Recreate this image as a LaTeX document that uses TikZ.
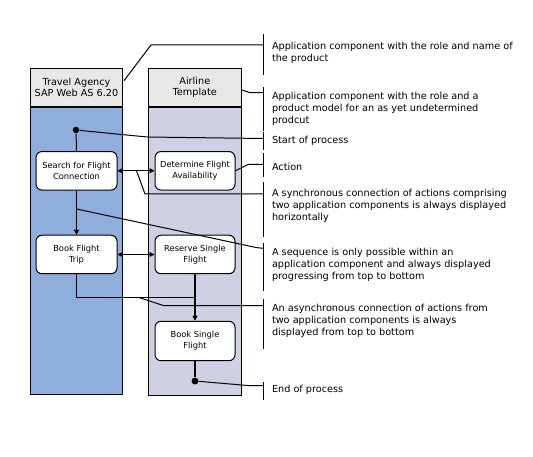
\documentclass[tikz,border=0pt]{standalone}
\usepackage{fontspec}
\setmainfont{DejaVu Sans}
\usetikzlibrary{arrows.meta}
\definecolor{laneA}{HTML}{8FAEDC}
\definecolor{laneB}{HTML}{CDD1E3}
\definecolor{hdrgray}{HTML}{E8E8E8}
\begin{document}
\begin{tikzpicture}[x=1pt,y=-1pt,line width=1pt,
  hdrbox/.style={draw,fill=hdrgray,minimum width=92.7pt,minimum height=38.4pt,inner sep=0pt,align=center,font=\fontsize{9.7}{11.6}\selectfont},
  act/.style={draw,fill=white,rounded corners=6pt,minimum width=81pt,minimum height=38.5pt,inner sep=0pt,align=center,font=\fontsize{8.3}{10.7}\selectfont},
  note/.style={anchor=west,align=left,inner sep=0pt,font=\fontsize{9.7}{12}\selectfont},
  dotnode/.style={circle,fill=black,inner sep=0pt,minimum size=6.5pt},
  onehead/.style={-{Triangle[length=5pt,width=5pt]}},
  twohead/.style={{Triangle[length=5pt,width=5pt]}-{Triangle[length=5pt,width=5pt]}},
  heavy/.style={line width=2pt}]
\useasboundingbox (0,0) rectangle (533,457);
% lanes
\filldraw[fill=laneA] (30,68.3) rectangle (122.7,394);
\filldraw[fill=laneB] (148.3,68.3) rectangle (241.3,395);
\node[hdrbox] (h1) at (76.5,87.5) {Travel Agency\\SAP Web AS 6.20};
\node[hdrbox] (h2) at (194.8,87.5) {Airline\\Template};
\draw[heavy] (30,106.7) -- (122.7,106.7);
\draw[heavy] (148.3,106.7) -- (241.3,106.7);
% actions
\node[act] (search) at (76.5,170.8) {Search for Flight\\Connection};
\node[act,minimum width=80pt] (determine) at (195,170.8) {Determine Flight\\Availability};
\node[act] (booktrip) at (76.5,254.5) {Book Flight\\Trip};
\node[act,minimum width=80pt] (reserve) at (195,254.5) {Reserve Single\\Flight};
\node[act,minimum width=80pt,minimum height=39.4pt] (booksingle) at (195,341) {Book Single\\Flight};
\node[dotnode] (start) at (76,130) {};
\node[dotnode,minimum size=7pt] (end) at (195,381) {};
% flows
\draw (start) -- (search.north);
\draw[twohead] (search.east) -- (determine.west);
\draw[onehead] (search.south) -- (booktrip.north);
\draw[twohead] (booktrip.east) -- (reserve.west);
\draw[heavy,onehead] (reserve.south) -- (booksingle.north);
\coordinate (join) at (195,297.3);
\draw (booktrip.south) |- (join);
\draw[heavy] (booksingle.south) -- (end);
% callout bars
\foreach \a/\b in {34/75,87/131,132/150.5,153/177,182.5/236.7,243.3/290.7,299.3/349.3,381.7/400}
  \draw (263,\a) -- (263,\b);
% callout anchors
\coordinate (c1) at (124,80.7);
\coordinate (c2) at (241.3,89.7);
\coordinate (c5) at (136.5,170.8);
\coordinate (c6) at (76.5,209);
\coordinate (c7) at (138.3,297.3);
\coordinate (e1) at (263,45);
\coordinate (e2) at (263,92.7);
\coordinate (e3) at (263,138.5);
\coordinate (e4) at (263,164.3);
\coordinate (e5) at (263,194);
\coordinate (e6) at (263,248.3);
\coordinate (e7) at (263,305.5);
\coordinate (e8) at (263,385.7);
\draw (c1) -- (151,45) -- (e1);
\draw (c2) -- (250,92.7) -- (e2);
\draw (start) -- (147,137) -- (e3);
\draw (determine.east) -- (248.3,164.3) -- (e4);
\draw (c5) -- (145,194) -- (e5);
\draw (c6) -- (256,247.5) -- (e6);
\draw (c7) -- (163.3,305.5) -- (e7);
\draw (end) -- (250,385.7) -- (e8);
% notes
\node[note] (n1) at (271.5,53) {Application component with the role and name of\\the product};
\node[note] (n2) at (271.5,108.6) {Application component with the role and a\\product model for an as yet undetermined\\prodcut};
\node[note] (n3) at (271.5,141) {Start of process};
\node[note] (n4) at (271.5,167.3) {Action};
\node[note] (n5) at (271.5,205.5) {A synchronous connection of actions comprising\\two application components is always displayed\\horizontally};
\node[note] (n6) at (271.5,265) {A sequence is only possible within an\\application component and always displayed\\progressing from top to bottom};
\node[note] (n7) at (271.5,321) {An asynchronous connection of actions from\\two application components is always\\displayed from top to bottom};
\node[note] (n8) at (271.5,390) {End of process};
\end{tikzpicture}
\end{document}
